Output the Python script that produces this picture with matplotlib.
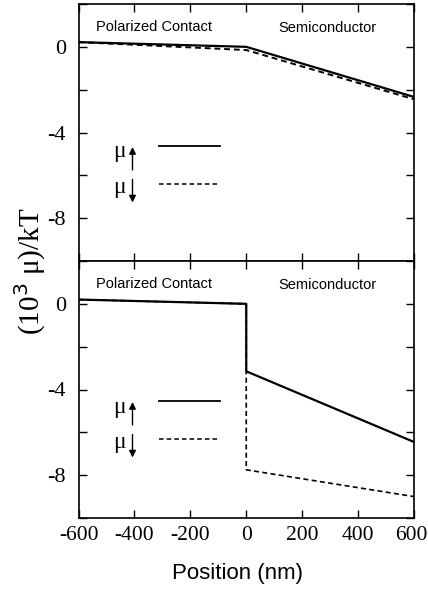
import matplotlib
matplotlib.use("Agg")
import matplotlib.pyplot as plt
import matplotlib.transforms as mtransforms
import numpy as np

# Top panel data
top_x = [-600, 0, 600]
top_up = [0.22, 0.0, -2.34]
top_dn_x = [-600, 0, 600]
top_dn = [0.22, -0.15, -2.45]

# Bottom panel data
bot_up_x = [-600, 0, 0, 600]
bot_up = [0.2, 0.0, -3.15, -6.45]
bot_dn_x = [-600, 0, 0, 600]
bot_dn = [0.2, 0.0, -7.75, -9.0]

xticks = [-600, -400, -200, 0, 200, 400, 600]
yticks = [2, 0, -2, -4, -6, -8, -10]
ylabels_shown = [0, -4, -8]

fig = plt.figure(figsize=(4.28, 5.91), dpi=100)
L, W = 78.5 / 428, (414 - 78.5) / 428
ax1 = fig.add_axes([L, 1 - 261 / 591, W, (261 - 4) / 591])
ax2 = fig.add_axes([L, 1 - 518 / 591, W, (518 - 261) / 591])

serif = "Liberation Serif"
sans = "Liberation Sans"

def style(ax, show_x):
    ax.set_xlim(-600, 600)
    ax.set_ylim(-10, 2)
    ax.set_xticks(xticks)
    ax.set_yticks(yticks)
    ax.set_yticklabels([str(v) if v in ylabels_shown else "" for v in yticks],
                       fontfamily=serif, fontsize=16)
    if show_x:
        ax.set_xticklabels([str(v) for v in xticks], fontfamily=serif, fontsize=15.5)
    else:
        ax.set_xticklabels([])
    ax.tick_params(direction="in", top=True, right=True, length=6, width=1.0)
    ax.tick_params(axis="y", pad=9)
    ax.tick_params(axis="x", pad=6)
    for s in ax.spines.values():
        s.set_linewidth(1.2)

# top panel
ax1.plot(top_x, top_up, color="black", lw=1.6)
ax1.plot(top_dn_x, top_dn, color="black", lw=1.4, ls=(0, (3, 2)))
style(ax1, False)

# bottom panel
ax2.plot(bot_up_x, bot_up, color="black", lw=1.6)
ax2.plot(bot_dn_x, bot_dn, color="black", lw=1.2, ls=(0, (3, 2)))
style(ax2, True)

# nudge last x tick label so it stays inside the figure
last = ax2.get_xticklabels()[-1]
last.set_transform(last.get_transform() +
                   mtransforms.ScaledTranslation(-3 / 100, 0, fig.dpi_scale_trans))

for ax, top, ly1, ly2 in [(ax1, 4, 146, 183.5), (ax2, 261, 401, 438.5)]:
    def tr(px, py):
        return ((px - 78.5) / (414 - 78.5), (top + 257 - py) / 257)
    ax.text(*tr(153.5, top + 23), "Polarized Contact", transform=ax.transAxes,
            ha="center", va="center", fontfamily=sans, fontsize=10.5)
    ax.text(*tr(327, top + 24), "Semiconductor", transform=ax.transAxes,
            ha="center", va="center", fontfamily=sans, fontsize=10.5)
    # legend lines
    x0, y0 = tr(159, ly1)
    x1, _ = tr(220, ly1)
    ax.plot([x0, x1], [y0, y0], transform=ax.transAxes, color="black", lw=1.3)
    _, y2 = tr(159, ly2)
    ax.plot([x0, x1], [y2, y2], transform=ax.transAxes, color="black", lw=1.1,
            ls=(0, (3, 2)))
    # mu symbols
    ax.text(*tr(119, ly1 + 6), "μ", transform=ax.transAxes, ha="center",
            va="center", fontfamily=serif, fontsize=17)
    ax.text(*tr(119, ly2 + 4), "μ", transform=ax.transAxes, ha="center",
            va="center", fontfamily=serif, fontsize=17)
    # arrows
    ax.annotate("", xy=tr(132.5, ly1 + 1), xytext=tr(132.5, ly1 + 24),
                xycoords="axes fraction", textcoords="axes fraction",
                arrowprops=dict(arrowstyle="-|>", color="black", lw=1.0,
                                mutation_scale=10, shrinkA=0, shrinkB=0))
    ax.annotate("", xy=tr(132.5, ly2 + 19), xytext=tr(132.5, ly2 - 4),
                xycoords="axes fraction", textcoords="axes fraction",
                arrowprops=dict(arrowstyle="-|>", color="black", lw=1.0,
                                mutation_scale=10, shrinkA=0, shrinkB=0))

fig.text(30 / 428, 1 - 271 / 591, "(10$^3$ μ)/kT", rotation=90, ha="center",
         va="center", fontfamily=serif, fontsize=21)
fig.text(237 / 428, 1 - 573 / 591, "Position (nm)", ha="center", va="center",
         fontfamily=sans, fontsize=16)

fig.savefig("out.png", dpi=100)
